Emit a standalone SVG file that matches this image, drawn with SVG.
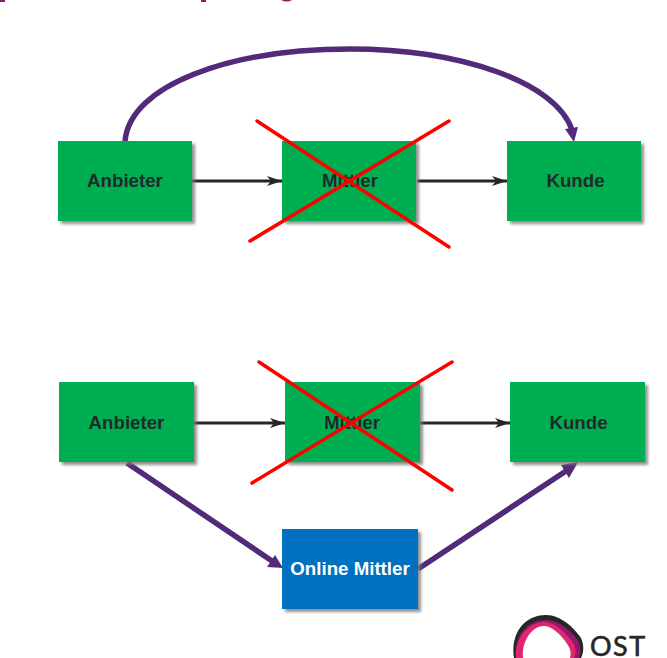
<svg xmlns="http://www.w3.org/2000/svg" width="667" height="658" viewBox="0 0 667 658">
<style>
.g{fill:#00ae52}
.b{fill:#0070c0}
.s{fill:#777;opacity:.8;filter:url(#bl)}
.t{font-family:"Liberation Sans",Arial,sans-serif;font-weight:bold;font-size:18.7px;text-anchor:middle;fill:#1f2a2a}
.w{fill:#fff}
.k{stroke:#262626;stroke-width:3;fill:none;marker-end:url(#ka)}
.p{stroke:#53297a;stroke-width:5.500;fill:none}
.x{stroke:#fe0000;stroke-width:3.500;stroke-linecap:round}
</style>
<defs>
<filter id="bl" x="-10%" y="-10%" width="120%" height="120%"><feGaussianBlur stdDeviation="1.5"/></filter>
<marker id="ka" markerUnits="userSpaceOnUse" markerWidth="16" markerHeight="12" refX="15" refY="5" orient="auto"><path d="M0 0L15 5L0 10L4 5Z" fill="#262626"/></marker>
</defs>
<g id="title" fill="#93186c">
<rect x="0" y="0" width="5" height="2"/>
<rect x="201" y="0" width="5" height="2"/>
<path d="M281 0h11q-5 3-11 0Z"/>
</g>
<g id="connectors">
<line class="k" x1="192" y1="181" x2="282" y2="181"/>
<line class="k" x1="417" y1="181" x2="507" y2="181"/>
<line class="k" x1="194" y1="423" x2="285" y2="423"/>
<line class="k" x1="420" y1="423" x2="510" y2="423"/>
<path class="p" d="M125 141C130 85 230 49 350 49C460 49 556 82 572 130"/>
<path d="M565 129L578 127L574 142Z" fill="#53297a"/>
<line class="p" x1="127" y1="463" x2="272" y2="561"/>
<path d="M275 555L283 568L267 567Z" fill="#53297a"/>
<line class="p" x1="418" y1="569" x2="566" y2="471"/>
<path d="M561 465L578 462L569 478Z" fill="#53297a"/>
</g>
<g id="n-anbieter1"><rect class="s" x="61" y="144" width="134" height="80"/><rect class="g" x="58" y="141" width="134" height="80"/><text class="t" x="125" y="187">Anbieter</text></g>
<g id="n-mittler1"><rect class="s" x="285" y="144" width="134" height="80"/><rect class="g" x="282" y="141" width="134" height="80"/><text class="t" x="350" y="187">Mittler</text></g>
<g id="n-kunde1"><rect class="s" x="510" y="144" width="134" height="80"/><rect class="g" x="507" y="141" width="134" height="80"/><text class="t" x="575.500" y="187">Kunde</text></g>
<g id="n-anbieter2"><rect class="s" x="62" y="385" width="135" height="80"/><rect class="g" x="59" y="382" width="135" height="80"/><text class="t" x="126.500" y="429">Anbieter</text></g>
<g id="n-mittler2"><rect class="s" x="288" y="385" width="135" height="80"/><rect class="g" x="285" y="382" width="135" height="80"/><text class="t" x="352" y="429">Mittler</text></g>
<g id="n-kunde2"><rect class="s" x="513" y="385" width="135" height="80"/><rect class="g" x="510" y="382" width="135" height="80"/><text class="t" x="578.500" y="429">Kunde</text></g>
<g id="n-online"><rect class="s" x="285" y="532" width="136" height="80"/><rect class="b" x="282" y="529" width="136" height="80"/><text class="t w" x="350" y="575">Online Mittler</text></g>
<g id="cross1"><line class="x" x1="257" y1="121" x2="449" y2="247"/><line class="x" x1="250" y1="241" x2="449" y2="121"/></g>
<g id="cross2"><line class="x" x1="259" y1="362" x2="452" y2="490"/><line class="x" x1="252" y1="483" x2="452" y2="362"/></g>
<g id="logo">
<path d="M514 658C510 634 524 615 546 615C561 615 574 628 581 638C584 645 584 652 581 658Z" fill="#262626"/>
<path d="M516 658C513 638 526 620 546 620C560 620 572 632 579 642C581 648 581 653 579 658Z" fill="#93186c"/>
<path d="M516 658C514 640 527 622 545 622C556 623 566 633 574 644C576 650 576 654 574 658Z" fill="#e0266f"/>
<path d="M523 658C521 642 532 625 545 626C554 627 564 638 569 647C571 651 571 655 570 658Z" fill="#fff"/>
<text x="590" y="656" font-family="Lato,'Liberation Sans',sans-serif" font-size="27" letter-spacing="1.500" stroke="#262626" stroke-width=".6" fill="#262626">OST</text>
</g>
</svg>
